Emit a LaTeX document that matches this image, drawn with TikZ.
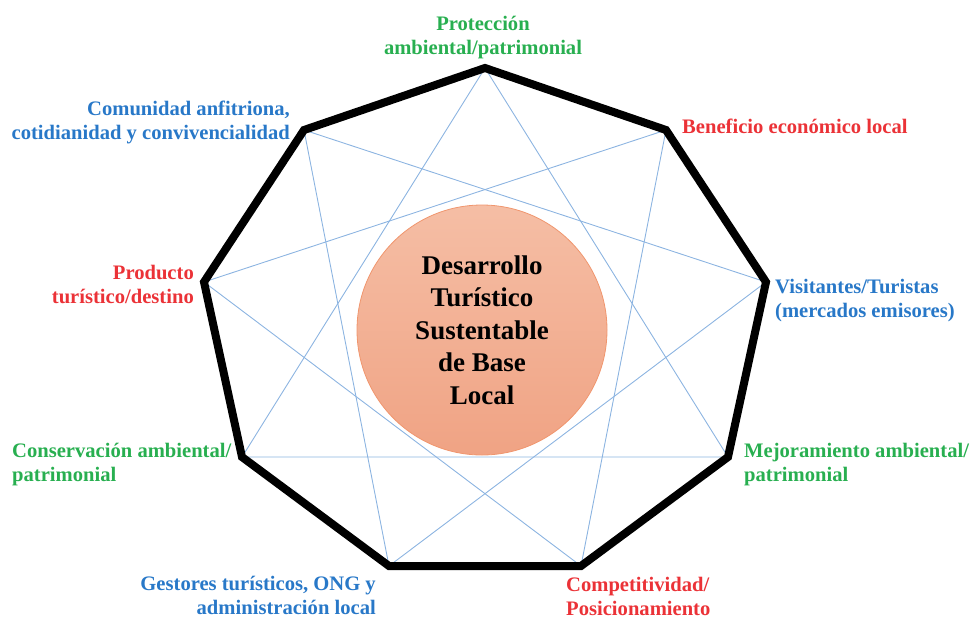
\documentclass[tikz,border=0pt]{standalone}
\usepackage{fontspec}
\setmainfont{Liberation Serif}
\definecolor{lgreen}{RGB}{40,175,80}
\definecolor{lblue}{RGB}{40,120,200}
\definecolor{lred}{RGB}{235,50,55}
\definecolor{starblue}{RGB}{140,180,225}
\definecolor{ctop}{RGB}{245,190,165}
\definecolor{cbot}{RGB}{240,163,132}
\definecolor{cedge}{RGB}{240,150,110}
\tikzset{
  frame/.style={line width=8pt, line join=miter, black},
  starline/.style={line width=0.9pt, starblue},
  lbl/.style={font=\fontsize{20.6}{24}\selectfont\bfseries, inner sep=0pt},
  core/.style={circle, minimum size=250pt, inner sep=0pt, draw=cedge, line width=0.8pt,
    top color=ctop, bottom color=cbot, align=center,
    font=\fontsize{27}{32.5}\selectfont\bfseries}
}
\begin{document}
\begin{tikzpicture}[x=1pt,y=-1pt]
\useasboundingbox (0,0) rectangle (972,619);
\coordinate (v1) at (485,68);
\coordinate (v2) at (666,130);
\coordinate (v3) at (766,282);
\coordinate (v4) at (728,457);
\coordinate (v5) at (581,566);
\coordinate (v6) at (389,566);
\coordinate (v7) at (242,457);
\coordinate (v8) at (204,282);
\coordinate (v9) at (304,130);
\draw[starline] (v1) -- (v4) -- (v7) -- cycle;
\draw[starline] (v2) -- (v5) -- (v8) -- cycle;
\draw[starline] (v3) -- (v6) -- (v9) -- cycle;
\draw[frame] (v1) -- (v2) -- (v3) -- (v4) -- (v5) -- (v6) -- (v7) -- (v8) -- (v9) -- cycle;
\node[core] (c) at (482,330) {Desarrollo\\Turístico\\Sustentable\\de Base\\Local};
\node[lbl, lgreen, align=center] (l1) at (483,38) {Protección\\ambiental/patrimonial};
\node[lbl, lred, anchor=west] (l2) at (682,126) {Beneficio económico local};
\node[lbl, lblue, anchor=west, align=left] (l3) at (775,301) {Visitantes/Turistas\\(mercados emisores)};
\node[lbl, lgreen, anchor=west, align=left] (l4) at (744,465) {Mejoramiento ambiental/\\patrimonial};
\node[lbl, lred, anchor=west, align=left] (l5) at (566,596) {Competitividad/\\Posicionamiento};
\node[lbl, lblue, anchor=east, align=right] (l6) at (376,595) {Gestores turísticos, ONG y\\administración local};
\node[lbl, lgreen, anchor=west, align=left] (l7) at (12,465) {Conservación ambiental/\\patrimonial};
\node[lbl, lred, anchor=east, align=right] (l8) at (194,284) {Producto\\turístico/destino};
\node[lbl, lblue, anchor=east, align=right] (l9) at (290,122) {Comunidad anfitriona,\\cotidianidad y convivencialidad};
\end{tikzpicture}
\end{document}
